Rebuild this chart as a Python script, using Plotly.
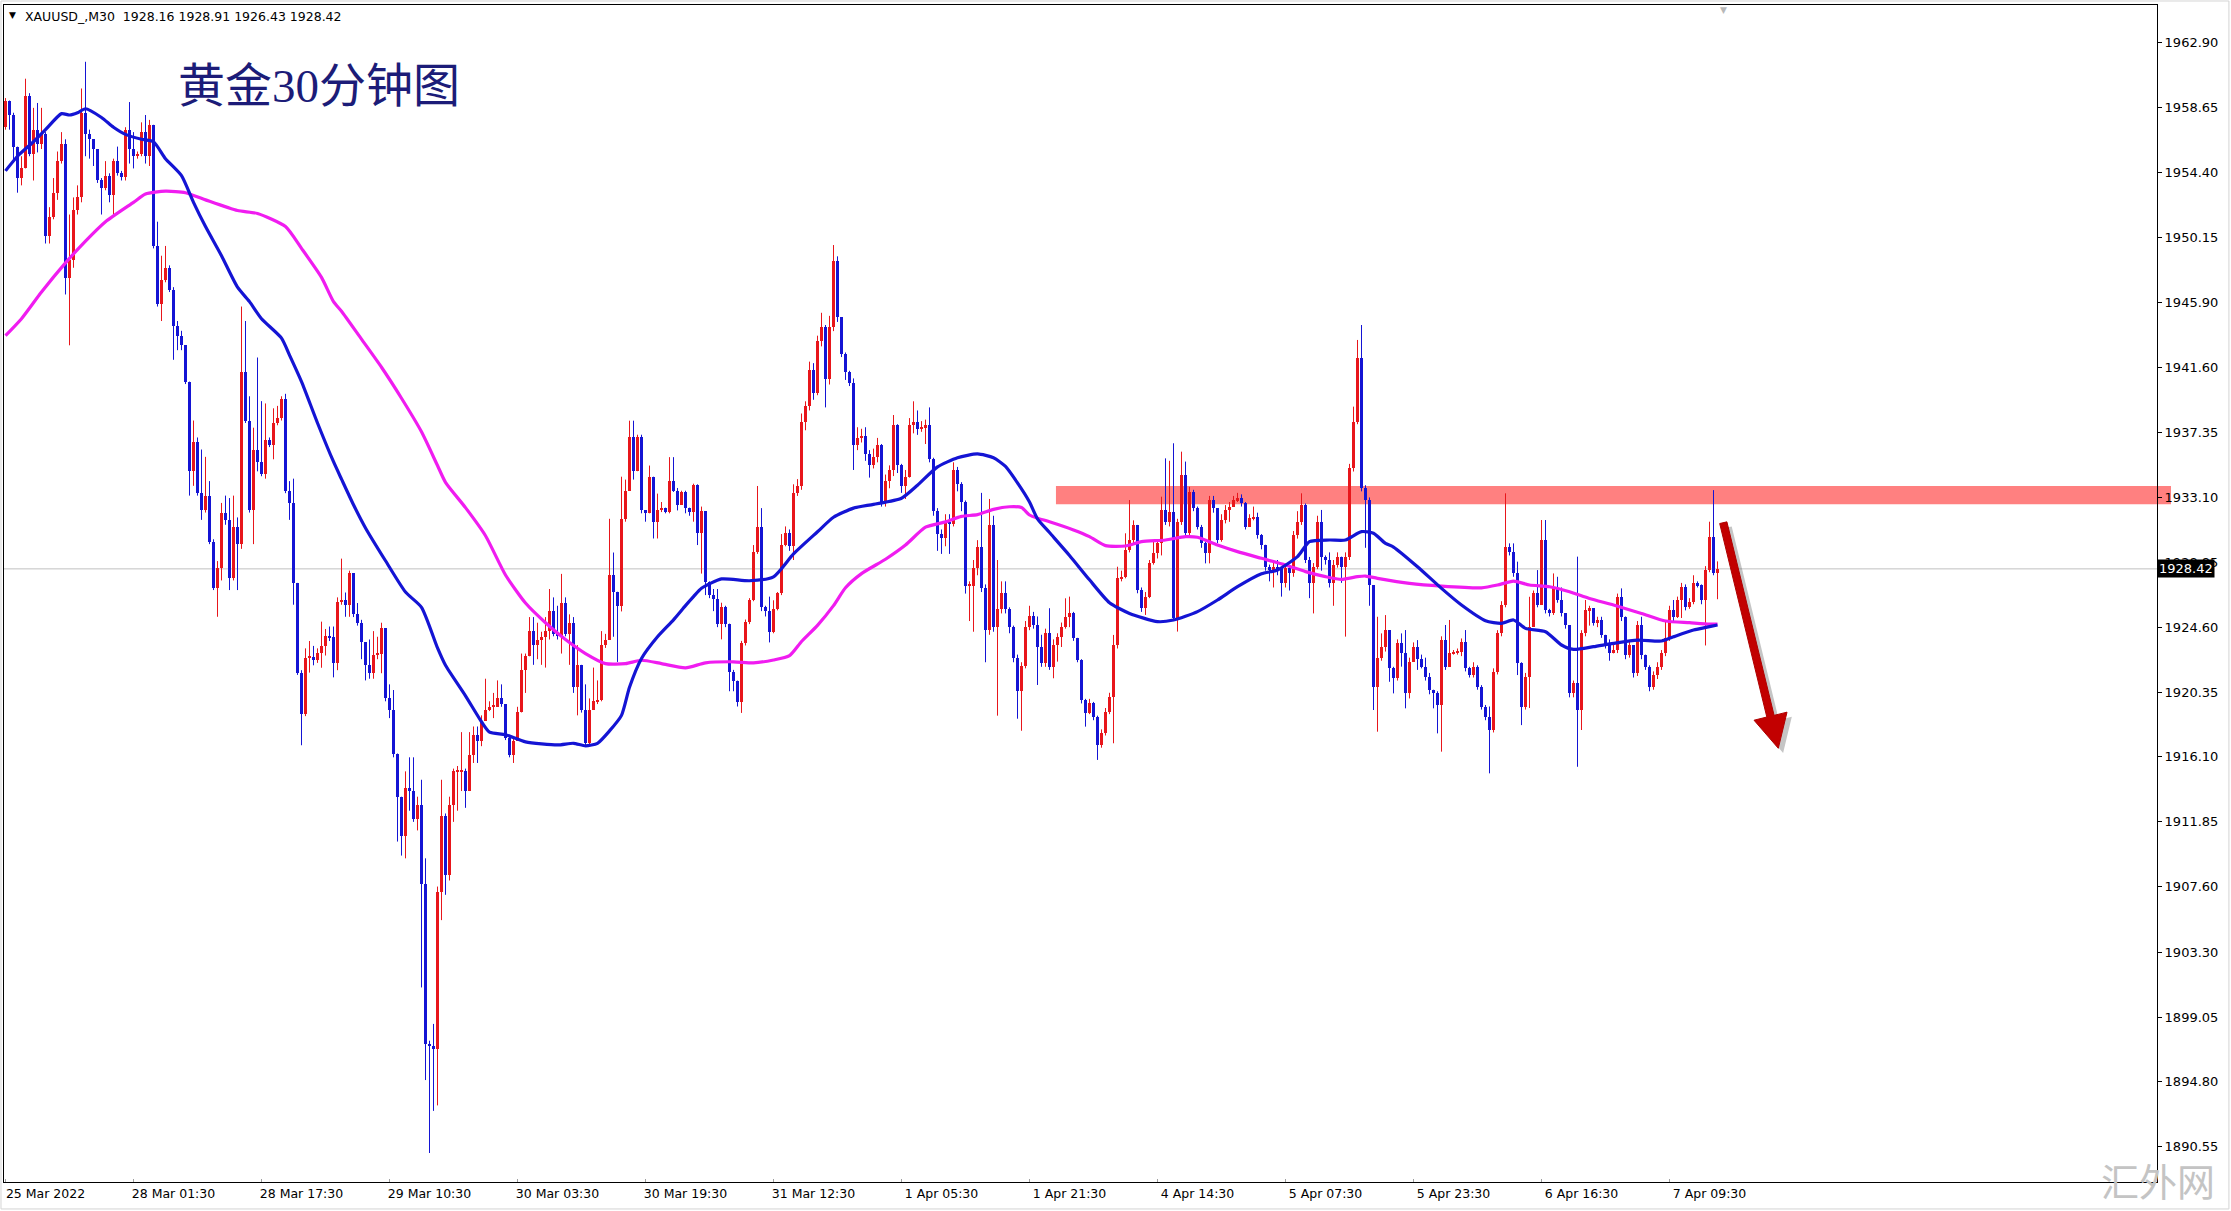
import plotly.graph_objects as go

# ---------------- data ----------------
FIRST_OPEN = 1957.36

closes = [
 1959.11,1958.16,1956.09,1954.03,1954.66,1959.43,1955.61,1957.20,1956.25,1956.89,
 1950.21,1951.49,1953.07,1955.14,1956.25,1947.51,1948.63,1951.96,1952.76,1958.31,
 1956.89,1956.57,1955.93,1953.87,1953.39,1954.19,1952.92,1955.14,1954.34,1954.09,
 1957.20,1955.93,1955.46,1955.61,1957.04,1955.46,1957.52,1949.58,1945.77,1947.36,
 1948.15,1946.72,1944.34,1943.70,1943.07,1940.69,1934.81,1936.71,1933.38,1932.27,
 1933.22,1930.20,1927.18,1928.46,1932.11,1931.63,1927.82,1931.16,1930.04,1941.32,
 1938.14,1932.27,1936.24,1935.44,1934.65,1936.87,1936.55,1937.98,1938.30,1939.57,
 1933.54,1932.74,1927.50,1921.62,1918.93,1922.58,1922.67,1922.48,1922.90,1923.37,
 1924.01,1923.94,1922.26,1926.23,1926.39,1926.07,1928.14,1925.44,1924.89,1923.61,
 1922.13,1921.58,1922.80,1922.87,1924.52,1919.93,1919.19,1916.32,1913.49,1910.92,
 1914.04,1913.86,1912.02,1912.94,1907.79,1897.31,1897.13,1896.94,1907.24,1912.20,
 1908.34,1912.94,1915.15,1915.15,1915.15,1913.86,1916.25,1917.54,1917.17,1918.46,
 1919.19,1919.38,1919.38,1919.93,1919.56,1917.35,1916.25,1917.17,1919.01,1921.77,
 1922.69,1924.34,1923.42,1923.79,1923.97,1924.34,1925.63,1924.16,1924.00,1926.18,
 1924.16,1924.90,1920.66,1922.13,1919.19,1916.99,1919.19,1919.74,1919.85,1923.42,
 1923.79,1928.02,1926.92,1926.00,1931.70,1933.54,1937.03,1934.82,1937.03,1932.25,
 1932.06,1934.46,1931.51,1932.25,1932.43,1932.14,1934.20,1933.54,1932.62,1933.46,
 1932.43,1932.14,1933.90,1930.80,1932.21,1927.53,1926.71,1926.47,1924.83,1925.89,
 1924.83,1921.68,1921.09,1919.69,1923.55,1924.95,1926.36,1929.52,1931.15,1925.89,
 1925.65,1924.30,1925.77,1926.82,1929.98,1930.80,1929.90,1933.38,1933.85,1938.06,
 1939.11,1941.45,1939.93,1943.32,1944.26,1940.87,1944.26,1948.59,1944.90,1942.50,
 1941.30,1940.60,1936.54,1937.00,1937.12,1935.95,1935.25,1935.72,1936.54,1932.80,
 1934.20,1934.90,1937.82,1935.25,1933.85,1934.43,1937.82,1938.06,1937.59,1937.71,
 1937.82,1935.60,1932.21,1930.69,1930.45,1931.50,1931.39,1934.90,1933.96,1932.79,
 1927.30,1927.30,1928.46,1929.87,1927.17,1924.40,1931.27,1924.60,1925.77,1926.82,
 1925.77,1924.60,1922.61,1920.39,1922.03,1924.60,1925.30,1924.74,1923.32,1922.23,
 1924.20,1922.01,1923.43,1923.98,1924.63,1925.29,1925.51,1923.87,1922.45,1919.83,
 1918.95,1919.61,1918.73,1916.88,1917.64,1919.06,1920.05,1923.43,1927.80,1927.91,
 1929.66,1930.31,1931.30,1927.04,1925.84,1926.60,1928.78,1929.44,1930.09,1932.28,
 1931.51,1932.17,1925.18,1931.51,1934.57,1930.75,1933.48,1932.39,1931.19,1930.09,
 1929.44,1932.93,1932.39,1930.31,1931.60,1932.28,1932.50,1932.93,1933.04,1932.71,
 1931.19,1931.73,1931.84,1930.64,1929.98,1928.56,1928.35,1928.56,1928.46,1927.47,
 1928.46,1928.13,1930.64,1931.51,1932.61,1929.00,1927.47,1928.56,1931.51,1929.22,
 1929.00,1927.47,1928.67,1929.22,1928.56,1929.22,1935.01,1938.07,1942.22,1933.70,
 1932.93,1927.36,1920.70,1922.55,1923.32,1924.41,1921.90,1921.24,1923.54,1922.88,
 1920.26,1922.33,1923.32,1922.50,1922.01,1921.35,1920.48,1920.26,1919.49,1923.75,
 1922.01,1922.88,1922.95,1922.99,1923.65,1921.90,1921.46,1922.01,1920.70,1919.39,
 1918.73,1917.86,1921.68,1924.19,1926.05,1929.87,1929.54,1928.12,1922.23,1919.39,
 1921.35,1924.63,1926.81,1926.05,1930.31,1925.72,1925.50,1927.14,1926.38,1925.50,
 1924.74,1920.26,1920.91,1919.17,1924.19,1925.72,1925.83,1924.85,1925.07,1924.08,
 1923.43,1922.88,1923.10,1926.59,1925.28,1922.77,1923.43,1921.57,1924.74,1922.77,
 1922.01,1920.70,1921.46,1922.01,1922.88,1923.86,1925.72,1925.28,1926.38,1927.25,
 1925.94,1926.27,1927.47,1927.36,1926.38,1928.34,1930.53,1928.16,1928.42,
]

highs = [
 1959.27,1959.01,1958.31,1956.09,1955.46,1960.54,1959.59,1958.63,1958.95,1958.63,
 1957.04,1952.12,1954.03,1955.77,1957.04,1956.57,1951.64,1952.76,1953.55,1959.90,
 1961.65,1957.20,1956.57,1955.93,1954.03,1955.14,1954.34,1955.30,1956.09,1954.50,
 1957.36,1959.01,1957.04,1955.77,1957.68,1958.16,1957.84,1957.52,1951.17,1948.94,
 1949.58,1948.31,1946.88,1944.66,1944.02,1943.07,1940.53,1938.14,1937.03,1936.24,
 1935.76,1934.17,1930.36,1928.93,1932.74,1933.22,1933.06,1933.22,1931.79,1945.61,
 1944.66,1939.73,1937.67,1942.27,1939.41,1939.26,1937.03,1938.94,1939.10,1939.73,
 1939.89,1934.17,1934.33,1927.50,1921.78,1923.21,1923.69,1923.37,1923.21,1924.96,
 1924.48,1924.64,1924.64,1926.55,1929.09,1926.87,1928.30,1928.02,1926.18,1925.08,
 1923.61,1923.79,1924.34,1923.97,1924.89,1924.52,1920.85,1920.48,1916.32,1913.12,
 1915.15,1916.07,1916.07,1913.49,1914.60,1909.45,1897.50,1898.60,1907.60,1914.60,
 1912.39,1913.49,1915.33,1915.50,1917.72,1915.33,1917.72,1918.09,1918.09,1918.82,
 1921.22,1919.74,1920.29,1921.11,1920.85,1919.56,1917.54,1917.35,1919.38,1922.87,
 1922.87,1925.26,1925.26,1924.89,1924.30,1925.26,1927.10,1926.55,1926.00,1928.09,
 1926.55,1925.44,1925.26,1923.42,1922.13,1920.85,1919.93,1921.95,1921.11,1924.34,
 1924.16,1931.70,1929.49,1926.92,1934.46,1934.27,1938.13,1938.13,1937.21,1937.21,
 1932.25,1935.19,1934.27,1933.35,1932.80,1932.43,1935.74,1935.74,1933.72,1933.54,
 1933.54,1932.43,1934.00,1933.96,1932.50,1932.00,1927.60,1927.10,1927.10,1926.20,
 1926.00,1924.80,1921.80,1921.10,1923.70,1925.10,1926.50,1929.98,1933.85,1932.40,
 1926.00,1926.60,1926.36,1926.90,1930.70,1931.20,1931.00,1933.96,1934.30,1938.60,
 1939.40,1942.00,1941.90,1943.70,1945.20,1944.40,1945.00,1949.64,1948.90,1944.90,
 1942.60,1941.40,1940.90,1937.70,1937.60,1937.70,1936.20,1936.30,1937.00,1936.60,
 1934.60,1935.20,1938.50,1937.90,1935.30,1934.90,1938.30,1939.40,1938.80,1938.10,
 1938.20,1939.00,1935.70,1932.40,1931.00,1932.00,1932.00,1935.40,1935.10,1934.10,
 1932.90,1927.60,1929.00,1930.30,1933.40,1927.40,1933.00,1931.90,1929.00,1927.60,
 1927.60,1925.90,1924.70,1922.80,1922.30,1925.00,1926.00,1925.60,1925.30,1924.10,
 1924.50,1925.84,1923.80,1924.20,1924.90,1926.49,1926.60,1925.60,1923.90,1922.50,
 1919.90,1919.90,1919.70,1918.80,1917.90,1919.30,1920.30,1924.09,1928.56,1928.30,
 1930.75,1932.93,1931.60,1931.30,1927.20,1926.90,1929.00,1930.31,1930.30,1933.15,
 1935.66,1935.50,1936.65,1931.70,1936.10,1935.45,1933.80,1933.60,1932.50,1931.30,
 1930.20,1933.20,1933.20,1931.84,1932.00,1932.60,1932.80,1933.20,1933.40,1933.30,
 1932.80,1932.00,1932.50,1932.10,1930.70,1930.00,1928.70,1928.80,1929.00,1928.50,
 1928.70,1928.60,1930.90,1932.20,1933.37,1932.70,1929.20,1928.80,1931.90,1932.28,
 1929.30,1929.50,1929.00,1929.50,1929.00,1929.50,1935.30,1939.05,1943.42,1944.40,
 1933.90,1933.10,1927.10,1925.28,1924.19,1925.39,1924.41,1922.00,1923.80,1924.19,
 1924.41,1922.60,1923.60,1923.75,1922.80,1922.60,1921.60,1920.50,1920.40,1924.00,
 1924.74,1925.07,1923.10,1923.20,1923.86,1924.41,1922.00,1922.30,1922.10,1920.80,
 1919.50,1919.40,1921.90,1924.40,1926.30,1933.37,1930.09,1930.09,1928.89,1922.30,
 1921.60,1926.59,1927.00,1928.34,1931.62,1931.62,1925.80,1928.12,1927.90,1927.20,
 1925.30,1924.74,1921.10,1929.22,1924.40,1926.38,1926.00,1925.00,1925.28,1925.28,
 1924.10,1923.80,1923.50,1926.80,1927.14,1925.30,1923.70,1922.70,1925.00,1925.28,
 1922.80,1922.10,1921.70,1922.30,1923.10,1925.07,1926.00,1926.38,1926.60,1927.50,
 1927.40,1926.50,1928.00,1927.60,1927.40,1928.60,1931.51,1933.58,1928.91,
]

lows = [
 1957.20,1957.20,1955.14,1953.07,1953.55,1954.66,1955.46,1953.87,1955.71,1955.93,
 1949.74,1949.74,1951.33,1952.60,1954.98,1946.40,1943.07,1948.15,1951.64,1952.44,
 1955.46,1955.30,1954.82,1953.71,1951.64,1953.23,1952.44,1951.64,1954.19,1953.87,
 1953.87,1954.98,1954.66,1955.30,1955.46,1954.98,1954.82,1949.42,1945.61,1944.66,
 1947.20,1946.56,1942.12,1942.75,1942.75,1940.53,1933.22,1933.86,1933.22,1931.63,
 1932.11,1930.04,1927.03,1925.28,1927.66,1931.31,1927.03,1927.66,1927.03,1929.73,
 1937.98,1932.11,1930.04,1934.81,1934.49,1934.33,1936.40,1935.60,1937.83,1938.14,
 1933.38,1931.63,1926.07,1921.47,1916.86,1918.77,1921.62,1922.10,1922.26,1921.94,
 1922.74,1923.69,1921.31,1921.78,1926.07,1925.28,1925.28,1925.26,1924.70,1922.50,
 1921.11,1921.22,1921.22,1922.50,1921.58,1919.74,1918.64,1916.07,1910.55,1909.63,
 1909.45,1912.57,1911.84,1911.28,1900.99,1894.92,1890.14,1892.90,1893.26,1905.40,
 1907.06,1908.00,1911.84,1912.57,1913.86,1912.76,1913.86,1915.70,1915.70,1916.80,
 1918.46,1919.10,1918.64,1919.38,1919.38,1917.20,1916.07,1915.70,1917.17,1919.01,
 1920.29,1922.69,1922.13,1922.50,1922.13,1921.95,1923.79,1924.00,1923.79,1922.87,
 1924.00,1922.13,1920.29,1918.82,1919.00,1916.80,1916.80,1919.19,1919.56,1919.74,
 1923.24,1923.79,1923.97,1922.32,1925.63,1931.51,1933.54,1934.27,1934.82,1932.06,
 1931.51,1932.06,1930.41,1930.41,1932.14,1932.06,1932.06,1933.46,1932.25,1932.62,
 1932.06,1931.90,1931.51,1929.98,1928.11,1926.70,1926.50,1925.65,1924.60,1923.80,
 1924.60,1920.40,1920.40,1919.40,1918.98,1923.40,1924.80,1926.30,1929.40,1925.65,
 1925.30,1923.60,1924.20,1925.70,1926.70,1929.90,1929.60,1929.00,1933.20,1933.60,
 1937.50,1938.80,1939.50,1939.80,1943.00,1939.00,1940.50,1944.00,1944.60,1942.30,
 1940.80,1940.40,1934.90,1936.20,1936.70,1935.50,1934.40,1935.00,1935.40,1932.50,
 1932.50,1933.70,1934.50,1934.70,1933.40,1933.00,1934.40,1937.30,1937.20,1937.40,
 1936.60,1935.40,1931.90,1929.60,1929.40,1929.90,1929.40,1931.20,1933.50,1932.20,
 1926.80,1925.00,1924.30,1928.00,1926.90,1922.30,1924.10,1924.30,1918.80,1925.50,
 1925.50,1924.20,1922.30,1918.60,1917.81,1921.90,1924.40,1924.50,1920.81,1922.00,
 1922.00,1921.80,1921.25,1922.34,1923.30,1924.50,1924.60,1923.70,1922.30,1919.60,
 1918.08,1918.90,1918.50,1915.90,1916.70,1917.50,1918.90,1916.99,1923.20,1927.60,
 1927.80,1929.50,1930.00,1926.82,1925.60,1925.40,1926.50,1928.70,1929.10,1929.30,
 1931.30,1931.20,1925.00,1924.31,1931.30,1930.50,1930.60,1932.20,1931.00,1929.80,
 1928.78,1928.78,1932.10,1930.10,1930.20,1931.40,1931.50,1932.60,1932.80,1932.50,
 1931.00,1931.30,1931.60,1930.40,1929.70,1928.30,1927.60,1927.20,1928.00,1926.60,
 1927.20,1927.00,1927.90,1930.40,1931.30,1928.80,1926.50,1925.50,1928.40,1928.30,
 1928.70,1927.20,1926.00,1928.50,1927.50,1923.98,1929.00,1934.80,1937.90,1933.50,
 1929.80,1926.00,1919.17,1917.75,1922.40,1923.00,1921.02,1920.26,1921.10,1922.01,
 1919.28,1919.93,1922.70,1921.80,1921.90,1921.10,1920.20,1919.28,1917.64,1916.44,
 1921.80,1922.10,1922.80,1922.80,1922.70,1921.70,1921.30,1921.30,1920.50,1919.20,
 1918.50,1915.02,1917.70,1921.50,1924.00,1925.90,1929.30,1927.90,1921.46,1918.18,
 1919.20,1919.30,1925.00,1925.90,1926.50,1925.50,1925.30,1925.40,1926.20,1925.30,
 1924.50,1920.00,1920.00,1915.45,1917.86,1924.00,1924.70,1924.70,1924.60,1923.90,
 1923.20,1922.40,1922.90,1922.90,1925.00,1922.50,1922.60,1921.30,1921.40,1922.50,
 1921.80,1920.40,1920.50,1921.20,1921.80,1922.70,1923.70,1925.00,1925.20,1925.20,
 1925.70,1925.80,1926.10,1927.20,1926.10,1923.40,1928.20,1928.00,1926.43,
]

# moving averages (sampled along the drawn lines)
ma_fast_bars = [0,3,7,10,14,16,18,20,24,27,30,34,37,40,44,47,50,54,58,61,64,69,71,74,78,82,84,87,
                90,95,100,104,108,110,115,119,121,125,130,138,142,145,148,151,154,156,159,163,167,
                170,172,174,179,186,192,197,203,207,212,217,224,228,233,238,243,247,250,253,256,
                258,261,266,271,276,281,288,292,298,303,308,314,318,323,326,331,335,339,342,345,
                347,353,359,364,370,374,377,380,385,389,392,397,402,408,414,417,422,426,428]
ma_fast_vals = [1954.50,1955.46,1956.41,1957.20,1958.25,1958.16,1958.31,1958.57,1958.00,1957.36,
                1956.89,1956.57,1956.41,1955.30,1954.19,1952.44,1950.85,1948.94,1946.88,1945.93,
                1944.81,1943.54,1942.43,1940.69,1937.98,1935.44,1934.30,1932.62,1931.10,1928.95,
                1926.90,1925.90,1923.24,1922.10,1920.10,1918.40,1917.72,1917.55,1917.08,1916.88,
                1916.99,1916.82,1916.99,1917.80,1918.82,1920.66,1922.55,1923.97,1925.08,1926.01,
                1926.60,1927.15,1927.76,1927.64,1927.90,1929.40,1930.85,1931.80,1932.40,1932.65,
                1933.05,1933.90,1935.10,1935.70,1935.95,1935.70,1935.13,1934.05,1932.80,1931.70,
                1930.80,1929.30,1927.70,1926.20,1925.50,1924.96,1925.07,1925.62,1926.38,1927.25,
                1928.10,1928.35,1929.22,1930.20,1930.31,1930.31,1930.86,1930.75,1930.09,1929.85,
                1928.56,1927.14,1926.05,1925.02,1924.85,1925.07,1924.52,1924.30,1923.43,1923.14,
                1923.32,1923.54,1923.75,1923.69,1923.97,1924.41,1924.63,1924.74]

ma_slow_bars = [0,4,9,15,20,25,32,35,40,45,50,58,63,70,74,79,82,84,89,94,99,104,108,110,115,120,
                125,130,135,140,145,150,155,159,164,170,175,182,187,192,196,199,203,207,210,214,
                220,225,230,235,239,243,247,251,254,256,258,261,267,271,275,280,284,290,295,298,
                303,308,314,320,325,330,334,338,340,343,351,359,369,373,377,381,386,391,396,402,
                409,415,421,426,428]
ma_slow_vals = [1943.70,1944.81,1946.56,1948.47,1949.90,1951.17,1952.44,1952.98,1953.17,1953.07,
                1952.60,1951.90,1951.71,1950.85,1949.42,1947.52,1945.93,1945.30,1943.47,1941.63,
                1939.60,1937.40,1935.19,1934.09,1932.43,1930.59,1928.02,1926.18,1924.89,1923.79,
                1922.87,1922.21,1922.21,1922.43,1922.21,1921.93,1922.26,1922.33,1922.26,1922.45,
                1922.73,1923.66,1924.72,1926.01,1927.18,1928.11,1929.05,1929.98,1931.15,1931.50,
                1931.86,1931.97,1932.32,1932.49,1932.44,1931.95,1931.74,1931.51,1930.97,1930.53,
                1929.94,1929.92,1930.20,1930.31,1930.53,1930.49,1929.98,1929.55,1929.11,1928.67,
                1928.24,1927.91,1927.73,1927.91,1927.95,1927.80,1927.47,1927.29,1927.18,1927.36,
                1927.62,1927.36,1927.25,1926.92,1926.48,1926.05,1925.50,1925.00,1924.89,1924.80,
                1924.80]

x_tick_bars = [0, 32, 64, 96, 128, 160, 192, 224, 256, 288, 320, 352, 384, 416]
x_tick_labels = ["25 Mar 2022", "28 Mar 01:30", "28 Mar 17:30", "29 Mar 10:30", "30 Mar 03:30",
                 "30 Mar 19:30", "31 Mar 12:30", "1 Apr 05:30", "1 Apr 21:30", "4 Apr 14:30",
                 "5 Apr 07:30", "5 Apr 23:30", "6 Apr 16:30", "7 Apr 09:30"]
y_tick_vals = [1962.90, 1958.65, 1954.40, 1950.15, 1945.90, 1941.60, 1937.35, 1933.10, 1928.85,
               1924.60, 1920.35, 1916.10, 1911.85, 1907.60, 1903.30, 1899.05, 1894.80, 1890.55]

LAST_PRICE = 1928.42
RESIST_LOW, RESIST_HIGH = 1932.65, 1933.85
HEADER = "XAUUSD_,M30  1928.16 1928.91 1926.43 1928.42"
TITLE = "黄金30分钟图"
WATERMARK = "汇外网"
# down arrow drawn on the chart (bar index, price)
ARROW_PTS = [(428.55, 1931.39), (430.35, 1931.50), (442.15, 1918.82), (445.38, 1919.03),
             (443.20, 1916.66), (437.13, 1918.50), (440.33, 1918.71)]

X_RANGE = [-0.375, 537.875]
Y_RANGE = [1888.24, 1965.37]

RED = "#e8161b"
BLUE = "#1414d4"
MAGENTA = "#f01cf0"
FONT = "DejaVu Sans, Verdana, sans-serif"

# ---------------- build ----------------
n = len(closes)
opens = [FIRST_OPEN] + closes[:-1]

up = {"x": [], "base": [], "h": [], "wx": [], "wy": []}
dn = {"x": [], "base": [], "h": [], "wx": [], "wy": []}
for i in range(n):
    o, c = opens[i], closes[i]
    hi = max(highs[i], o, c)
    lo = min(lows[i], o, c)
    d = up if c >= o else dn
    d["x"].append(i)
    d["base"].append(min(o, c))
    d["h"].append(max(abs(c - o), 0.07))
    d["wx"] += [i, i, None]
    d["wy"] += [lo, hi, None]

fig = go.Figure()
for d, col in ((up, RED), (dn, BLUE)):
    fig.add_trace(go.Scatter(x=d["wx"], y=d["wy"], mode="lines",
                             line=dict(color=col, width=1), hoverinfo="skip",
                             showlegend=False))
for d, col in ((up, RED), (dn, BLUE)):
    fig.add_trace(go.Bar(x=d["x"], y=d["h"], base=d["base"], width=0.78,
                         marker=dict(color=col, line=dict(width=0)),
                         showlegend=False, hoverinfo="skip"))

fig.add_trace(go.Scatter(x=ma_slow_bars, y=ma_slow_vals, mode="lines",
                         line=dict(color=MAGENTA, width=3.2, shape="spline", smoothing=0.6),
                         showlegend=False, hoverinfo="skip"))
fig.add_trace(go.Scatter(x=ma_fast_bars, y=ma_fast_vals, mode="lines",
                         line=dict(color=BLUE, width=3.2, shape="spline", smoothing=0.6),
                         showlegend=False, hoverinfo="skip"))


def path_from(pts, dx=0.0, dy=0.0):
    return "M " + " L ".join(f"{x + dx},{y + dy}" for x, y in pts) + " Z"


shapes = [
    # resistance zone (drawn behind candles, extends slightly into the price scale)
    dict(type="rect", xref="paper", yref="y", x0=0.4886, x1=1.0065,
         y0=RESIST_LOW, y1=RESIST_HIGH, fillcolor="#ff8080", line=dict(width=0),
         layer="below"),
    # last price line
    dict(type="line", xref="paper", yref="y", x0=0, x1=1, y0=LAST_PRICE, y1=LAST_PRICE,
         line=dict(color="#c0c0c0", width=1), layer="below"),
    # arrow shadow + arrow
    dict(type="path", xref="x", yref="y", path=path_from(ARROW_PTS, 1.2, -0.3),
         fillcolor="rgba(90,90,90,0.35)", line=dict(width=0)),
    dict(type="path", xref="x", yref="y", path=path_from(ARROW_PTS),
         fillcolor="#c20000", line=dict(color="#b00000", width=1)),
    # outer window frame
    dict(type="rect", xref="paper", yref="paper", x0=-0.0014, x1=1.0334, y0=-0.0229, y1=1.0034,
         line=dict(color="#d4d4d4", width=1), fillcolor="rgba(0,0,0,0)", layer="below"),
]

annotations = [
    dict(xref="paper", yref="paper", x=0, y=1, xanchor="left", yanchor="middle",
         xshift=3, yshift=-10, text="▼", showarrow=False,
         font=dict(family=FONT, size=9, color="#000000")),
    dict(xref="paper", yref="paper", x=0, y=1, xanchor="left", yanchor="middle",
         xshift=19, yshift=-11, text=HEADER, showarrow=False,
         font=dict(family=FONT, size=12.5, color="#000000")),
    dict(xref="paper", yref="paper", x=0, y=1, xanchor="left", yanchor="middle",
         xshift=172, yshift=-81, text=TITLE, showarrow=False,
         font=dict(family="Liberation Serif, Noto Sans CJK SC, serif", size=47, color="#1c1c78")),
    dict(xref="paper", yref="y", x=1, y=LAST_PRICE, xanchor="left", yanchor="middle",
         xshift=0, text=f"{LAST_PRICE:.2f}", showarrow=False, bgcolor="#000000",
         borderpad=1, font=dict(family=FONT, size=13, color="#ffffff")),
    dict(xref="x", yref="paper", x=429.6, y=1, xanchor="center", yanchor="top",
         yshift=2, text="▼", showarrow=False, font=dict(family=FONT, size=9, color="#b8b8b8")),
    dict(xref="paper", yref="paper", x=1, y=0, xanchor="left", yanchor="middle",
         xshift=-58, yshift=-1, text=WATERMARK, showarrow=False,
         font=dict(family="Liberation Serif, Noto Sans CJK SC, serif", size=38, color="#c4c4c4")),
]

fig.update_layout(
    width=2231, height=1211,
    margin=dict(l=4, r=74, t=5, b=29, pad=0),
    paper_bgcolor="#ffffff", plot_bgcolor="#ffffff",
    barmode="overlay", bargap=0,
    showlegend=False,
    shapes=shapes, annotations=annotations,
    xaxis=dict(range=X_RANGE, showgrid=False, zeroline=False, showline=True,
               linecolor="#000000", linewidth=1, mirror=True,
               ticks="inside", ticklen=3, tickcolor="#a0a0a0",
               tickvals=x_tick_bars, ticktext=x_tick_labels, ticklabelshift=40,
               tickfont=dict(family=FONT, size=12.5, color="#000000"),
               fixedrange=True),
    yaxis=dict(range=Y_RANGE, side="right", showgrid=False, zeroline=False, showline=True,
               linecolor="#000000", linewidth=1, mirror=True,
               ticks="outside", ticklen=4, tickcolor="#000000",
               tickvals=y_tick_vals, ticktext=[f"{v:.2f}" for v in y_tick_vals],
               tickfont=dict(family=FONT, size=13, color="#000000"),
               fixedrange=True),
)

fig.write_html("out.html",
               config={"displayModeBar": False, "staticPlot": False},
               post_script="document.body.style.margin='0';document.body.style.overflow='hidden';")
